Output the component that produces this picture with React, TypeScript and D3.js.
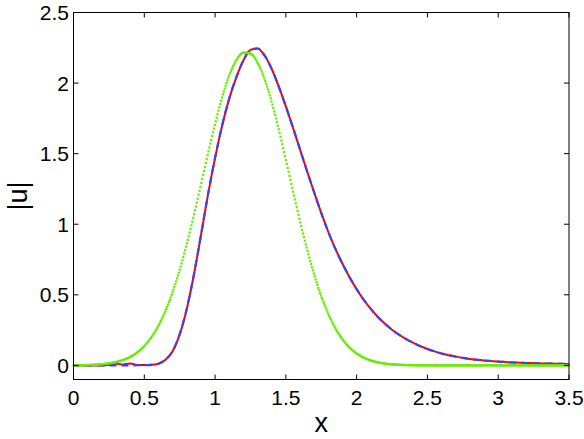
import { useEffect, useRef, useState } from "react";
import * as d3 from "d3";

// sample grid along x
const xGrid = [
  0, 0.05, 0.1, 0.15, 0.2, 0.25, 0.3, 0.35, 0.4, 0.45,
  0.5, 0.55, 0.6, 0.65, 0.7, 0.75, 0.8, 0.85, 0.9, 0.95,
  1, 1.05, 1.1, 1.15, 1.2, 1.25, 1.3, 1.35, 1.4, 1.45,
  1.5, 1.55, 1.6, 1.65, 1.7, 1.75, 1.8, 1.85, 1.9, 1.95,
  2, 2.05, 2.1, 2.15, 2.2, 2.25, 2.3, 2.35, 2.4, 2.45,
  2.5, 2.55, 2.6, 2.65, 2.7, 2.75, 2.8, 2.85, 2.9, 2.95,
  3, 3.05, 3.1, 3.15, 3.2, 3.25, 3.3, 3.35, 3.4, 3.45, 3.5,
];

// red solid curve (small wiggle near x = 0.3..0.45)
const redU = [
  0, 0, 0, 0, 0, 0.002, 0.012, 0.006, 0.013, 0.003,
  0.002, 0.004, 0.012, 0.04, 0.1, 0.22, 0.4, 0.64, 0.92, 1.21,
  1.47, 1.7, 1.89, 2.04, 2.16, 2.235, 2.245, 2.195, 2.1, 1.975,
  1.835, 1.685, 1.53, 1.375, 1.225, 1.08, 0.945, 0.825, 0.72, 0.625,
  0.54, 0.465, 0.4, 0.343, 0.295, 0.253, 0.217, 0.186, 0.16, 0.136,
  0.116, 0.099, 0.084, 0.072, 0.062, 0.053, 0.046, 0.04, 0.035, 0.031,
  0.027, 0.024, 0.021, 0.019, 0.017, 0.015, 0.014, 0.013, 0.012, 0.011, 0.01,
];

// blue dashed curve
const blueU = [
  0, 0, 0, 0, 0, 0, 0, 0, 0, 0.001,
  0.002, 0.004, 0.012, 0.04, 0.1, 0.22, 0.4, 0.64, 0.92, 1.21,
  1.47, 1.7, 1.89, 2.04, 2.16, 2.235, 2.245, 2.195, 2.1, 1.975,
  1.835, 1.685, 1.53, 1.375, 1.225, 1.08, 0.945, 0.825, 0.72, 0.625,
  0.54, 0.465, 0.4, 0.343, 0.295, 0.253, 0.217, 0.186, 0.16, 0.136,
  0.116, 0.099, 0.084, 0.072, 0.062, 0.053, 0.046, 0.04, 0.035, 0.031,
  0.027, 0.024, 0.021, 0.019, 0.017, 0.015, 0.014, 0.013, 0.012, 0.011, 0.01,
];

// green dotted curve
const greenU = [
  0.0007, 0.0014, 0.0026, 0.0047, 0.0083, 0.0141, 0.0234, 0.0379, 0.0598, 0.0916,
  0.137, 0.199, 0.281, 0.387, 0.519, 0.677, 0.86, 1.063, 1.28, 1.5,
  1.711, 1.901, 2.055, 2.162, 2.215, 2.209, 2.145, 2.027, 1.865, 1.671,
  1.457, 1.236, 1.021, 0.822, 0.643, 0.49, 0.364, 0.263, 0.185, 0.126,
  0.0843, 0.0547, 0.0345, 0.0212, 0.0127, 0.0074, 0.0042, 0.0023, 0.0012, 0.0006,
  0.0003, 0, 0, 0, 0, 0, 0, 0, 0, 0,
  0, 0, 0, 0, 0, 0, 0, 0, 0, 0, 0,
];

const xTicks = [0, 0.5, 1, 1.5, 2, 2.5, 3, 3.5];
const yTicks = [0, 0.5, 1, 1.5, 2, 2.5];

const W = 584;
const H = 439;
const FONT = "'Liberation Sans', Arial, Helvetica, sans-serif";

const x = d3.scaleLinear().domain([0, 3.5]).range([73.5, 569]);
const y = d3.scaleLinear().domain([-0.1, 2.5]).range([379.5, 12.5]);

const line = d3
  .line<number>()
  .x((_, i) => x(xGrid[i]))
  .y((d) => y(d))
  .curve(d3.curveMonotoneX);

export default function App() {
  const greenRef = useRef<SVGPathElement>(null);
  const [dots, setDots] = useState<[number, number][]>([]);

  // green markers sit at evenly spaced x along the curve
  useEffect(() => {
    const node = greenRef.current;
    if (!node) return;
    const total = node.getTotalLength();
    const pts: [number, number][] = [];
    let nextX = x(0);
    for (let l = 0; l <= total; l += 0.2) {
      const p = node.getPointAtLength(l);
      if (p.x >= nextX) {
        pts.push([p.x, p.y]);
        nextX += 0.9;
      }
    }
    setDots(pts);
  }, []);

  const fmt = (v: number) => String(v);

  return (
    <svg
      width={W}
      height={H}
      style={{ position: "absolute", left: 0, top: 0, background: "#fff" }}
      fontFamily={FONT}
    >
      <rect x={0} y={0} width={W} height={H} fill="#fff" />

      {/* curves */}
      <path d={line(redU) ?? ""} fill="none" stroke="#ff0000" strokeWidth={2} />
      <path
        d={line(blueU) ?? ""}
        fill="none"
        stroke="#3344ff"
        strokeWidth={2.2}
        strokeDasharray="7,5"
      />
      <path ref={greenRef} d={line(greenU) ?? ""} fill="none" stroke="none" />
      <g fill="#66ee00">
        {dots.map((p, i) => (
          <rect key={i} x={p[0] - 1.1} y={p[1] - 1.1} width={2.2} height={2.2} />
        ))}
      </g>

      {/* axes box */}
      <rect
        x={x(0)}
        y={y(2.5)}
        width={x(3.5) - x(0)}
        height={y(-0.1) - y(2.5)}
        fill="none"
        stroke="#000"
        strokeWidth={1}
      />

      {/* x ticks */}
      {xTicks.map((t) => (
        <g key={"x" + t}>
          <line x1={x(t)} x2={x(t)} y1={y(-0.1)} y2={y(-0.1) - 5} stroke="#000" />
          <line x1={x(t)} x2={x(t)} y1={y(2.5)} y2={y(2.5) + 5} stroke="#000" />
          <text x={x(t)} y={405} textAnchor="middle" fontSize={21} fill="#000">
            {fmt(t)}
          </text>
        </g>
      ))}

      {/* y ticks */}
      {yTicks.map((t) => (
        <g key={"y" + t}>
          <line x1={x(0)} x2={x(0) + 5} y1={y(t)} y2={y(t)} stroke="#000" />
          <line x1={x(3.5)} x2={x(3.5) - 5} y1={y(t)} y2={y(t)} stroke="#000" />
          <text
            x={69}
            y={y(t)}
            dy="0.36em"
            textAnchor="end"
            fontSize={21}
            fill="#000"
          >
            {fmt(t)}
          </text>
        </g>
      ))}

      {/* axis titles */}
      <text x={(x(0) + x(3.5)) / 2} y={432} textAnchor="middle" fontSize={27} fill="#000">
        x
      </text>
      <text
        transform={`translate(27,${(y(2.5) + y(-0.1)) / 2}) rotate(-90)`}
        textAnchor="middle"
        fontSize={27}
        fill="#000"
      >
        |u|
      </text>
    </svg>
  );
}
